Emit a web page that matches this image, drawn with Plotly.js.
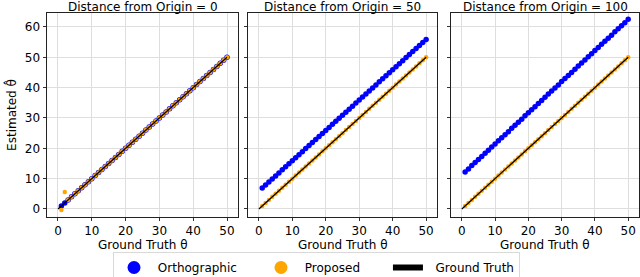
<!DOCTYPE html>
<html>
<head>
<meta charset="utf-8">
<script src="https://cdn.plot.ly/plotly-3.0.1.min.js"></script>
<style>html,body{margin:0;padding:0;background:#fff;}#chart{width:640px;height:277px;}</style>
</head>
<body>
<div id="chart"></div>
<script>
// ---- data ----
var panelTitles = ["Distance from Origin = 0", "Distance from Origin = 50", "Distance from Origin = 100"];
var xTitle = "Ground Truth θ";
var yTitle = "Estimated θ̂";
var groundTruthX = [0, 50];
var groundTruthY = [0, 50];
var thetaX = [1,2,3,4,5,6,7,8,9,10,11,12,13,14,15,16,17,18,19,20,21,22,23,24,25,26,27,28,29,30,31,32,33,34,35,36,37,38,39,40,41,42,43,44,45,46,47,48,49,50];

var ortho0 = [1.0,2.0,3,4,5,6,7,8,9,10,11,12,13,14,15,16,17,18,19,20,21,22,23,24,25,26,27,28,29,30,31,32,33,34,35,36,37,38,39,40,41,42,43,44,45,46,47,48,49,50];
var prop0  = [-0.3,5.6,3,4,5,6,7,8,9,10,11,12,13,14,15,16,17,18,19,20,21,22,23,24,25,26,27,28,29,30,31,32,33,34,35,36,37,38,39,40,41,42,43,44,45,46,47,48,49,50];

var ortho50 = [6.9,7.9,8.9,9.9,10.9,11.9,12.9,13.9,14.9,15.9,16.9,17.9,18.9,19.9,20.9,21.9,22.9,23.9,24.9,25.9,26.9,27.9,28.9,29.9,30.9,31.9,32.9,33.9,34.9,35.9,36.9,37.9,38.9,39.9,40.9,41.9,42.9,43.9,44.9,45.9,46.9,47.9,48.9,49.9,50.9,51.9,52.9,53.9,54.9,55.9];
var prop50 = [1,2,3,4,5,6,7,8,9,10,11,12,13,14,15,16,17,18,19,20,21,22,23,24,25,26,27,28,29,30,31,32,33,34,35,36,37,38,39,40,41,42,43,44,45,46,47,48,49,50];

var ortho100 = [12.2,13.2,14.3,15.3,16.3,17.3,18.4,19.4,20.4,21.4,22.5,23.5,24.5,25.5,26.6,27.6,28.6,29.6,30.7,31.7,32.7,33.7,34.8,35.8,36.8,37.9,38.9,39.9,40.9,42.0,43.0,44.0,45.0,46.1,47.1,48.1,49.1,50.2,51.2,52.2,53.2,54.3,55.3,56.3,57.3,58.4,59.4,60.4,61.4,62.5];
var prop100 = [1,2,3,4,5,6,7,8,9,10,11,12,13,14,15,16,17,18,19,20,21,22,23,24,25,26,27,28,29,30,31,32,33,34,35,36,37,38,39,40,41,42,43,44,45,46,47,48,49,50];

var seriesNames = ["Orthographic", "Proposed", "Ground Truth"];
var xTickVals = [0, 10, 20, 30, 40, 50];
var yTickVals = [0, 10, 20, 30, 40, 50, 60];

// ---- build ----
var orthoSets = [ortho0, ortho50, ortho100];
var propSets = [prop0, prop50, prop100];
var colors = {ortho: "#0000ff", prop: "#ffa500", gt: "#000000"};
var traces = [];
for (var i = 0; i < 3; i++) {
  var xa = i === 0 ? "x" : "x" + (i + 1);
  var ya = i === 0 ? "y" : "y" + (i + 1);
  traces.push({x: thetaX, y: orthoSets[i], xaxis: xa, yaxis: ya, type: "scatter", mode: "markers",
    marker: {color: colors.ortho, size: 5.5}, showlegend: false});
  traces.push({x: thetaX, y: propSets[i], xaxis: xa, yaxis: ya, type: "scatter", mode: "markers",
    marker: {color: colors.prop, size: 4.5}, showlegend: false});
  traces.push({x: groundTruthX, y: groundTruthY, xaxis: xa, yaxis: ya, type: "scatter", mode: "lines",
    line: {color: colors.gt, width: 1.2}, showlegend: false});
}
// legend-only entries (padding with no-break spaces to match the reference spacing)
var NB = "\u00a0";
var legendNames = [NB + seriesNames[0] + NB + NB + NB + NB + NB,
                   NB + seriesNames[1] + NB + NB + NB + NB + NB + NB,
                   NB + NB + seriesNames[2]];
traces.push({x: [null], y: [null], type: "scatter", mode: "markers", name: legendNames[0],
  marker: {color: colors.ortho, size: 13}});
traces.push({x: [null], y: [null], type: "scatter", mode: "markers", name: legendNames[1],
  marker: {color: colors.prop, size: 13}});
traces.push({x: [null], y: [null], type: "scatter", mode: "lines", name: legendNames[2],
  line: {color: colors.gt, width: 6}});

var font = {family: "DejaVu Sans", size: 12, color: "#000"};
function xAxis(dom) {
  return {domain: dom, range: [-3.25, 53.25], tickvals: xTickVals, ticks: "outside", ticklen: 3,
    tickcolor: "#333", showline: true, mirror: true, linecolor: "#222", linewidth: 1,
    showgrid: true, gridcolor: "#dedede", gridwidth: 1, zeroline: false,
    tickfont: font, fixedrange: true};
}
function yAxis(anchor, showLabels) {
  var a = {anchor: anchor, domain: [0, 1], range: [-2.64, 64.6], tickvals: yTickVals, ticks: "outside", ticklen: 3.5,
    tickcolor: "#333", showline: true, mirror: true, linecolor: "#222", linewidth: 1,
    showgrid: true, gridcolor: "#dedede", gridwidth: 1, zeroline: false,
    showticklabels: showLabels, tickfont: font};
  if (showLabels) a.title = {text: yTitle, font: font, standoff: 5};
  return a;
}
var domains = [[47/640, 238/640], [248/640, 437/640], [451/640, 639/640]];
var annotations = [];
for (var j = 0; j < 3; j++) {
  var cx = (domains[j][0] + domains[j][1]) / 2;
  annotations.push({text: panelTitles[j], xref: "paper", yref: "paper",
    x: cx, y: 1, xanchor: "center", yanchor: "bottom",
    yshift: -3, showarrow: false, font: font});
  annotations.push({text: xTitle, xref: "paper", yref: "paper",
    x: cx, y: 0, xanchor: "center", yanchor: "top",
    yshift: -20, showarrow: false, font: font, borderpad: 0});
}
var layout = {
  width: 640, height: 277,
  margin: {l: 0, r: 0, t: 13, b: 60, pad: 0, autoexpand: false},
  paper_bgcolor: "#fff", plot_bgcolor: "#fff",
  font: font,
  xaxis: Object.assign(xAxis(domains[0]), {anchor: "y"}),
  xaxis2: Object.assign(xAxis(domains[1]), {anchor: "y2"}),
  xaxis3: Object.assign(xAxis(domains[2]), {anchor: "y3"}),
  yaxis: yAxis("x", true),
  yaxis2: Object.assign(yAxis("x2", false), {matches: "y"}),
  yaxis3: Object.assign(yAxis("x3", false), {matches: "y"}),
  showlegend: true,
  legend: {orientation: "h", xref: "container", yref: "container", x: 113/640, y: (277 - 252) / 277,
    xanchor: "left", yanchor: "top",
    bordercolor: "#d9d9d9", borderwidth: 1, bgcolor: "#fff", font: font, itemsizing: "trace"},
  annotations: annotations
};
Plotly.newPlot("chart", traces, layout, {staticPlot: true, displayModeBar: false});
</script>
</body>
</html>
